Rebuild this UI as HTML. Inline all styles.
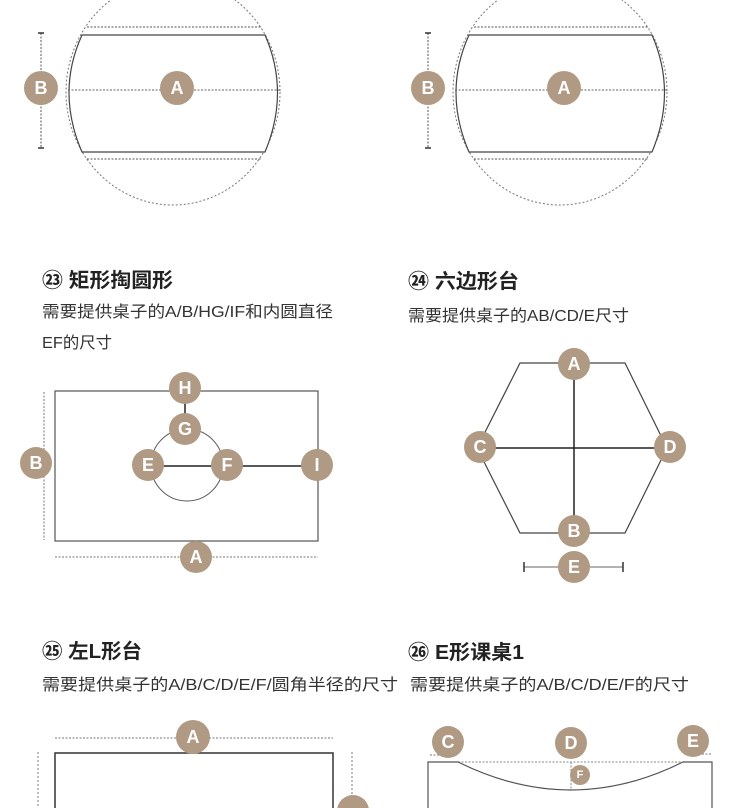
<!DOCTYPE html>
<html><head><meta charset="utf-8"><style>
html,body{margin:0;padding:0;background:#fff;width:750px;height:808px;overflow:hidden}
svg{display:block}
.t{font-family:"Liberation Sans","Noto Sans CJK SC",sans-serif;font-weight:bold;font-size:20px;fill:#222}
.d{font-family:"Liberation Sans","Noto Sans CJK SC",sans-serif;font-size:16px;fill:#333}
.l{font-family:"Liberation Sans",sans-serif;font-size:18px;font-weight:bold;fill:#fff;text-anchor:middle;dominant-baseline:central}
</style></head><body>
<svg width="750" height="808" viewBox="0 0 750 808" xmlns="http://www.w3.org/2000/svg">
<defs>
<g id="circfig">
<ellipse cx="173" cy="92" rx="107" ry="113" fill="none" stroke="#777" stroke-width="1" stroke-dasharray="2,2"/>
<line x1="87" y1="27" x2="261" y2="27" stroke="#555" stroke-dasharray="2,1.5"/>
<line x1="87" y1="159" x2="261" y2="159" stroke="#555" stroke-dasharray="2,1.5"/>
<path d="M82 35 L265 35 Q290 92 265 152 L82 152 Q56 92 82 35Z" fill="#fff" stroke="#444" stroke-width="1.2"/>
<line x1="68" y1="90" x2="280" y2="90" stroke="#666" stroke-dasharray="2,1.5"/>
<line x1="41" y1="33" x2="41" y2="148" stroke="#555" stroke-dasharray="2,1.5"/>
<line x1="38" y1="33" x2="44" y2="33" stroke="#333" stroke-width="1.5"/>
<line x1="38" y1="148" x2="44" y2="148" stroke="#333" stroke-width="1.5"/>
<circle cx="41" cy="88" r="17" fill="#b09a84"/><text class="l" x="41" y="88">B</text>
<circle cx="177" cy="88" r="17" fill="#b09a84"/><text class="l" x="177" y="88">A</text>
</g>
</defs>
<use href="#circfig"/>
<use href="#circfig" x="387"/>

<text class="t" x="42" y="287" textLength="131" lengthAdjust="spacingAndGlyphs">㉓ 矩形掏圆形</text>
<text class="d" x="42" y="317" textLength="291" lengthAdjust="spacingAndGlyphs">需要提供桌子的A/B/HG/IF和内圆直径</text>
<text class="d" x="42" y="348" textLength="70" lengthAdjust="spacingAndGlyphs">EF的尺寸</text>
<text class="t" x="408" y="288" textLength="111" lengthAdjust="spacingAndGlyphs">㉔ 六边形台</text>
<text class="d" x="408" y="321" textLength="221" lengthAdjust="spacingAndGlyphs">需要提供桌子的AB/CD/E尺寸</text>

<!-- fig 23 -->
<rect x="55" y="391" width="263" height="150" fill="none" stroke="#555" stroke-width="1.2"/>
<circle cx="187" cy="465" r="36" fill="none" stroke="#555"/>
<line x1="185" y1="388" x2="185" y2="429" stroke="#222" stroke-width="1.5"/>
<line x1="148" y1="466" x2="317" y2="466" stroke="#222" stroke-width="1.5"/>
<line x1="44" y1="392" x2="44" y2="540" stroke="#777" stroke-dasharray="2,1.5"/>
<line x1="55" y1="557" x2="318" y2="557" stroke="#777" stroke-dasharray="2,1.5"/>
<circle cx="185" cy="388" r="16" fill="#b09a84"/><text class="l" x="185" y="388">H</text>
<circle cx="185" cy="429" r="16" fill="#b09a84"/><text class="l" x="185" y="429">G</text>
<circle cx="148" cy="465" r="16" fill="#b09a84"/><text class="l" x="148" y="465">E</text>
<circle cx="227" cy="465" r="16" fill="#b09a84"/><text class="l" x="227" y="465">F</text>
<circle cx="317" cy="465" r="16" fill="#b09a84"/><text class="l" x="317" y="465">I</text>
<circle cx="36" cy="463" r="16" fill="#b09a84"/><text class="l" x="36" y="463">B</text>
<circle cx="196" cy="557" r="16" fill="#b09a84"/><text class="l" x="196" y="557">A</text>

<!-- hexagon -->
<polygon points="520,363 625,363 667,448 625,533 520,533 477,448" fill="none" stroke="#444" stroke-width="1.2"/>
<line x1="574" y1="364" x2="574" y2="531" stroke="#222" stroke-width="1.5"/>
<line x1="480" y1="448" x2="670" y2="448" stroke="#222" stroke-width="1.5"/>
<line x1="524" y1="567" x2="623" y2="567" stroke="#666"/>
<line x1="524" y1="562" x2="524" y2="572" stroke="#333" stroke-width="1.5"/>
<line x1="623" y1="562" x2="623" y2="572" stroke="#333" stroke-width="1.5"/>
<circle cx="574" cy="364" r="16" fill="#b09a84"/><text class="l" x="574" y="364">A</text>
<circle cx="480" cy="447" r="16" fill="#b09a84"/><text class="l" x="480" y="447">C</text>
<circle cx="670" cy="447" r="16" fill="#b09a84"/><text class="l" x="670" y="447">D</text>
<circle cx="574" cy="531" r="16" fill="#b09a84"/><text class="l" x="574" y="531">B</text>
<circle cx="574" cy="567" r="16" fill="#b09a84"/><text class="l" x="574" y="567">E</text>

<text class="t" x="42" y="658" textLength="100" lengthAdjust="spacingAndGlyphs">㉕ 左L形台</text>
<text class="d" x="42" y="690" textLength="356" lengthAdjust="spacingAndGlyphs">需要提供桌子的A/B/C/D/E/F/圆角半径的尺寸</text>
<text class="t" x="408" y="659" textLength="116" lengthAdjust="spacingAndGlyphs">㉖ E形课桌1</text>
<text class="d" x="410" y="690" textLength="279" lengthAdjust="spacingAndGlyphs">需要提供桌子的A/B/C/D/E/F的尺寸</text>

<!-- fig 25 -->
<line x1="55" y1="738" x2="333" y2="738" stroke="#777" stroke-dasharray="2,1.5"/>
<polyline points="55,808 55,753 333,753 333,808" fill="none" stroke="#333" stroke-width="1.5"/>
<line x1="38" y1="752" x2="38" y2="808" stroke="#777" stroke-dasharray="2,2"/>
<line x1="352" y1="752" x2="352" y2="800" stroke="#777" stroke-dasharray="2,2"/>
<circle cx="193" cy="737" r="17" fill="#b09a84"/><text class="l" x="193" y="737">A</text>
<circle cx="353" cy="811" r="16" fill="#b09a84"/>

<!-- fig 26 -->
<line x1="458" y1="762" x2="683" y2="762" stroke="#888" stroke-dasharray="2,1.5"/>
<path d="M428 808 L428 762 L458 762 Q571 818 683 762 L712 762 L712 808" fill="none" stroke="#555" stroke-width="1.2"/>
<line x1="571" y1="762" x2="571" y2="790" stroke="#888" stroke-dasharray="2,1.5"/>
<line x1="430" y1="755" x2="455" y2="755" stroke="#777" stroke-dasharray="2,1.5"/>
<line x1="688" y1="754" x2="712" y2="754" stroke="#777" stroke-dasharray="2,1.5"/>
<circle cx="448" cy="742" r="16" fill="#b09a84"/><text class="l" x="448" y="742">C</text>
<circle cx="571" cy="743" r="16" fill="#b09a84"/><text class="l" x="571" y="743">D</text>
<circle cx="693" cy="741" r="16" fill="#b09a84"/><text class="l" x="693" y="741">E</text>
<circle cx="580" cy="775" r="10" fill="#b09a84"/><text class="l" x="580" y="775" style="font-size:11px">F</text>
</svg>
</body></html>
